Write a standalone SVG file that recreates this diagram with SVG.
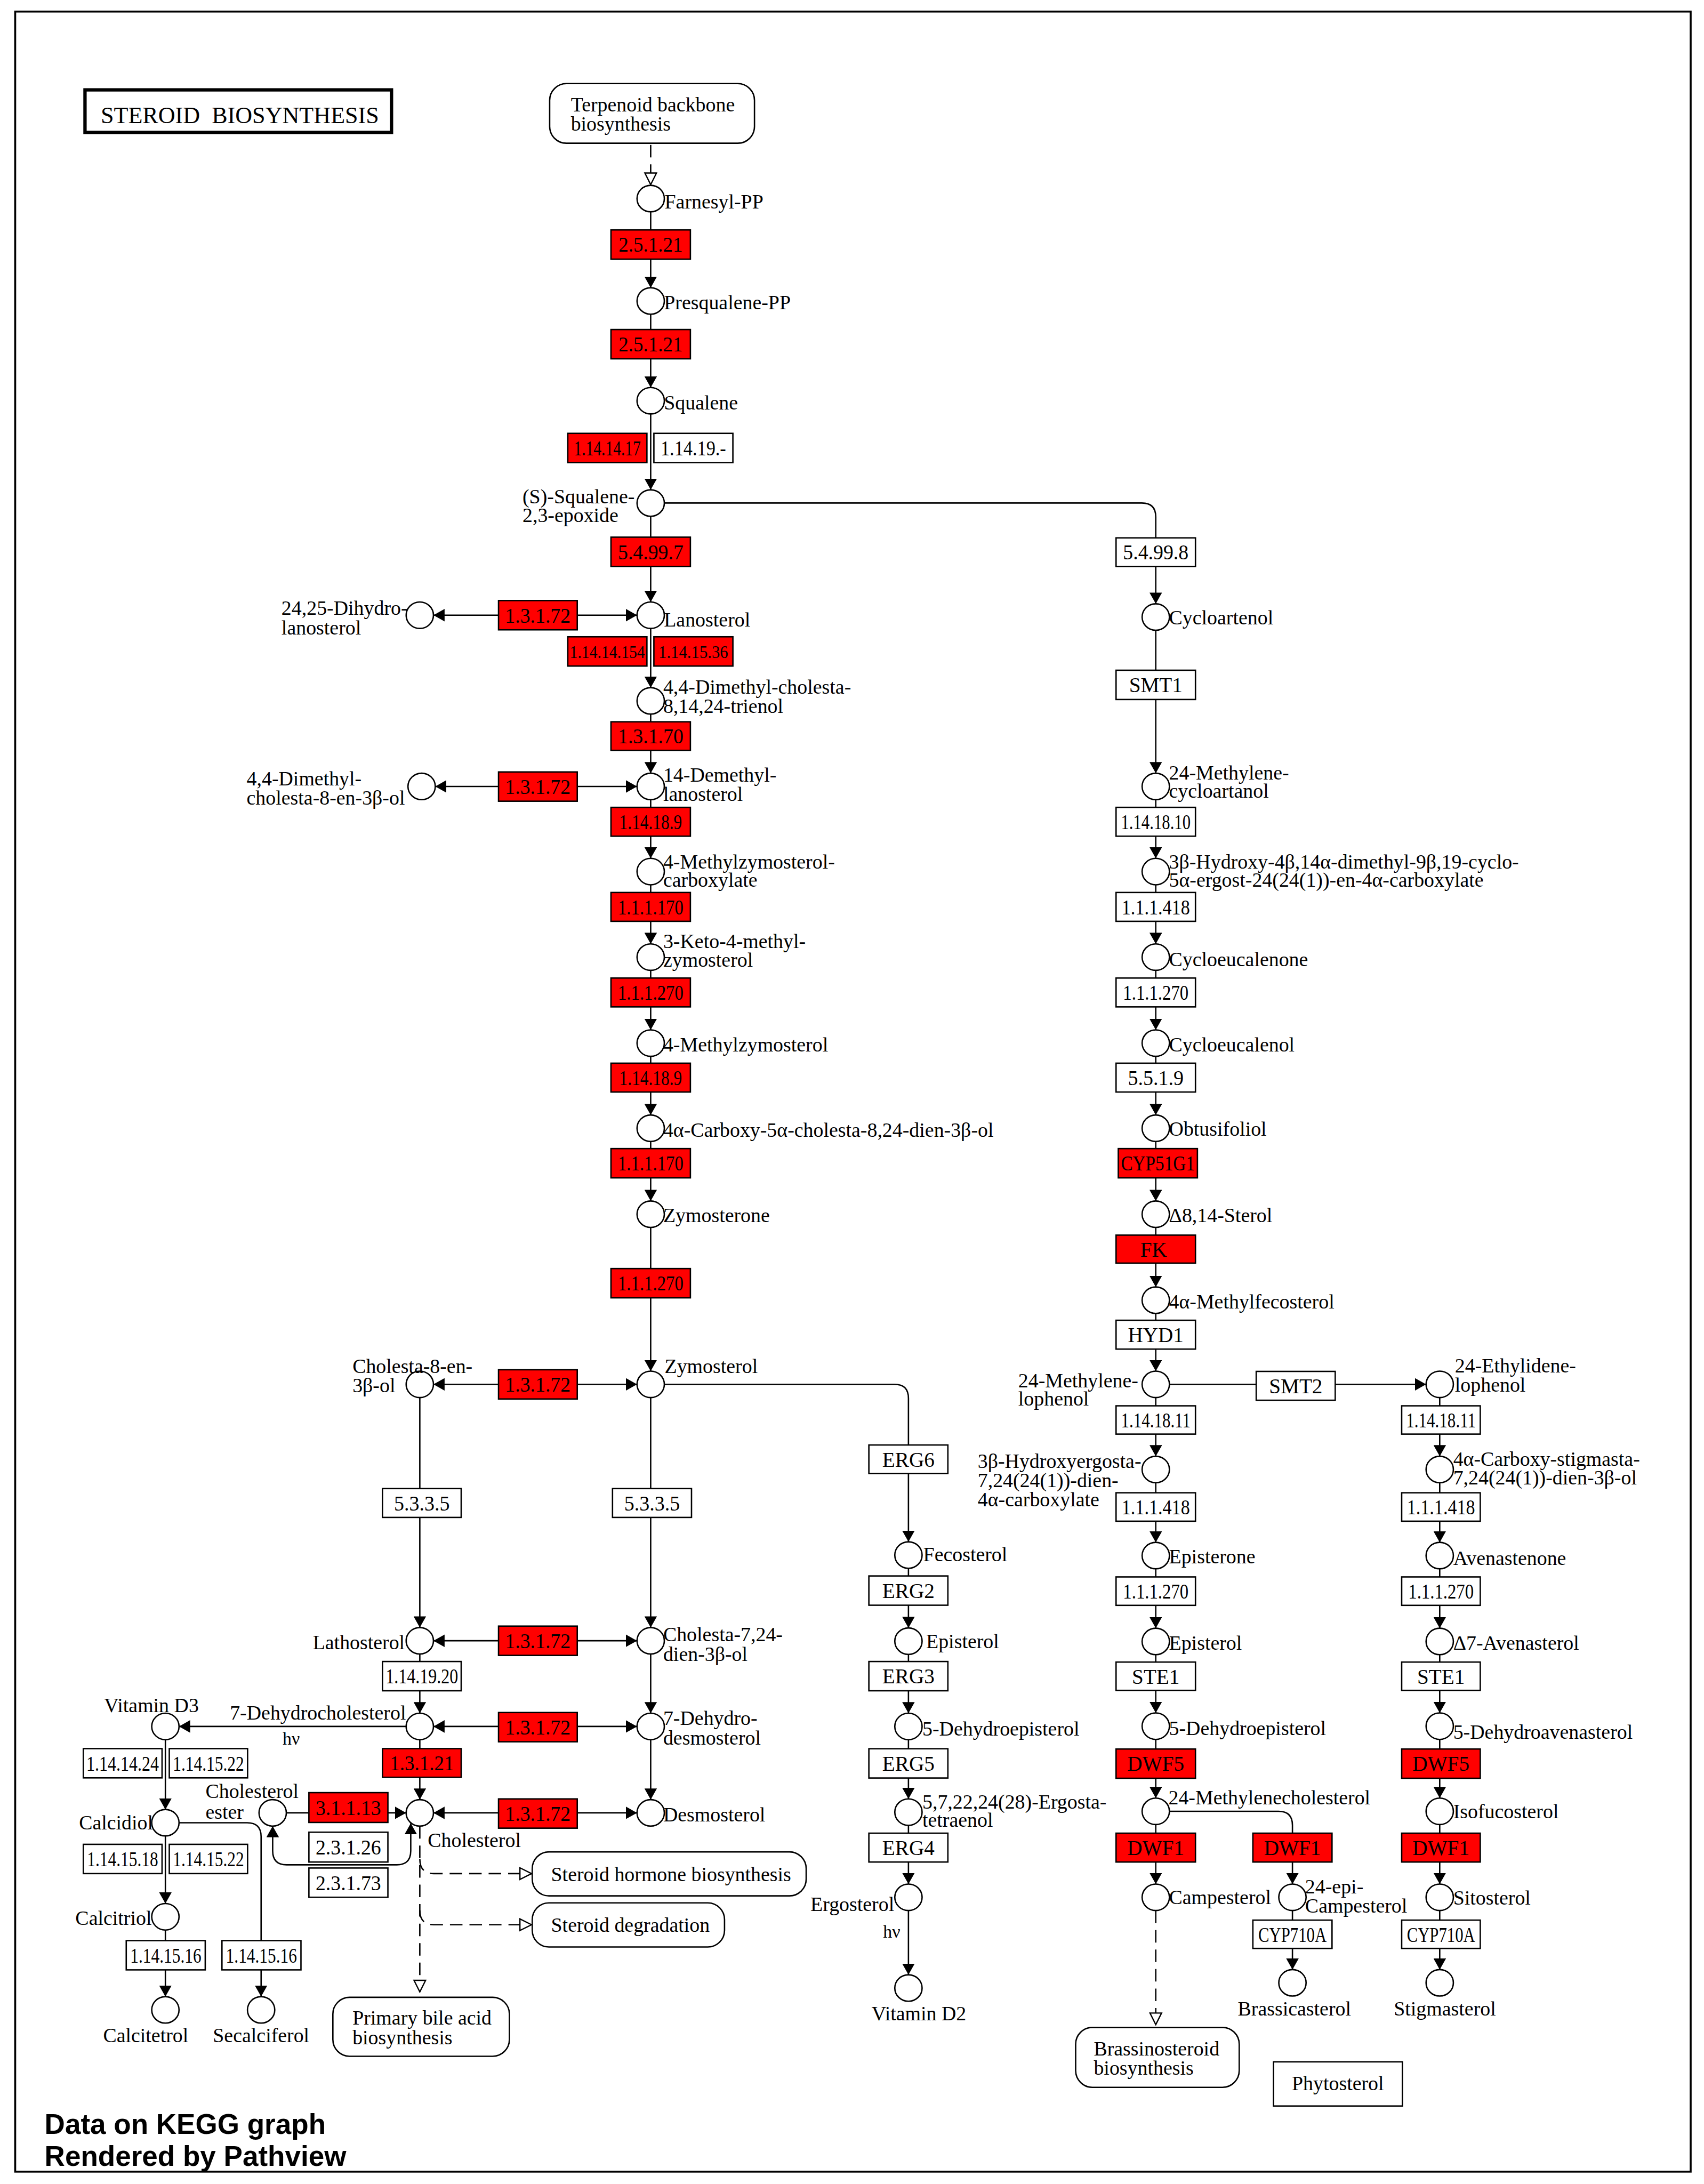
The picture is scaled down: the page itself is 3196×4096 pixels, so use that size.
<svg xmlns="http://www.w3.org/2000/svg" width="3196" height="4096" viewBox="0 0 3196 4096">
<style>
.cp{fill:#fff;stroke:#000;stroke-width:1}
.en{fill:#fff;stroke:#000;stroke-width:1}
.rd{fill:#ff0000;stroke:#000;stroke-width:1}
.mp{fill:#fff;stroke:#000;stroke-width:1}
text{font-family:"Liberation Serif","Times New Roman",serif;fill:#000}
.lb{font-size:14.5px}
.et{font-size:15px;text-anchor:middle}
.sm{font-size:12.5px}
.mid{text-anchor:middle}
.end{text-anchor:end}
.ln{fill:none;stroke:#000;stroke-width:1}
.da{stroke-dasharray:9 5}
.ft{font-family:"Liberation Sans",Arial,sans-serif;font-weight:bold;font-size:20.3px}
</style>
<defs>
<marker id="ah" viewBox="0 0 10 10" preserveAspectRatio="none" refX="10" refY="5" markerWidth="8" markerHeight="9" markerUnits="userSpaceOnUse" orient="auto-start-reverse"><path d="M0,0L10,5L0,10Z" fill="#000"/></marker>
<marker id="oh" viewBox="-1 -1 12 12" refX="10" refY="5" markerWidth="10" markerHeight="10" markerUnits="userSpaceOnUse" orient="auto"><path d="M0,0L10,5L0,10Z" fill="#fff" stroke="#000" stroke-width="1.1"/></marker>
</defs>
<rect x="0" y="0" width="3196" height="4096" fill="#fff"/>
<g transform="scale(2.6133)">
<rect x="10.9" y="8.3" width="1202.5" height="1550.2" fill="none" stroke="#000" stroke-width="1.4"/>
<g id="title"><rect x="61" y="64.5" width="220" height="30.5" fill="#fff" stroke="#000" stroke-width="2.4"/><text x="72.3" y="88.4" font-size="17" textLength="199.7" lengthAdjust="spacingAndGlyphs" xml:space="preserve">STEROID  BIOSYNTHESIS</text></g>

<g id="connectors">
<path class="ln" marker-end="url(#ah)" d="M467,152V206.5"/>
<path class="ln" marker-end="url(#ah)" d="M467,225.5V278.1"/>
<path class="ln" marker-end="url(#ah)" d="M467,297.1V351.5"/>
<path class="ln" marker-end="url(#ah)" d="M467,370.5V432"/>
<path class="ln" marker-end="url(#ah)" d="M467,451V493.5"/>
<path class="ln" marker-end="url(#ah)" d="M467,512.5V554.9"/>
<path class="ln" marker-end="url(#ah)" d="M467,573.9V616"/>
<path class="ln" marker-end="url(#ah)" d="M467,635V677.4"/>
<path class="ln" marker-end="url(#ah)" d="M467,696.4V739.1"/>
<path class="ln" marker-end="url(#ah)" d="M467,758.1V800.2"/>
<path class="ln" marker-end="url(#ah)" d="M467,819.2V861.9"/>
<path class="ln" marker-end="url(#ah)" d="M467,880.9V984"/>
<path class="ln" marker-end="url(#ah)" d="M467,1003V1168"/>
<path class="ln" marker-end="url(#ah)" d="M467,1187V1229.5"/>
<path class="ln" marker-end="url(#ah)" d="M467,1248.5V1291.5"/>
<path class="ln" marker-end="url(#ah)" d="M301.3,1003V1168"/>
<path class="ln" marker-end="url(#ah)" d="M301.3,1187V1229.5"/>
<path class="ln" marker-end="url(#ah)" d="M301.3,1248.5V1291.5"/>
<path class="ln" marker-start="url(#ah)" marker-end="url(#ah)" d="M311.1,441.5H457.2"/>
<path class="ln" marker-start="url(#ah)" marker-end="url(#ah)" d="M312.4,564.4H457.2"/>
<path class="ln" marker-start="url(#ah)" marker-end="url(#ah)" d="M311.1,993.5H457.2"/>
<path class="ln" marker-start="url(#ah)" marker-end="url(#ah)" d="M311.1,1177.5H457.2"/>
<path class="ln" marker-start="url(#ah)" marker-end="url(#ah)" d="M311.1,1239H457.2"/>
<path class="ln" marker-start="url(#ah)" marker-end="url(#ah)" d="M311.1,1301H457.2"/>
<path class="ln" marker-end="url(#ah)" d="M291.5,1239H128.5"/>
<path class="ln" marker-end="url(#ah)" d="M205.5,1301H291.5"/>
<path class="ln" marker-start="url(#ah)" marker-end="url(#ah)" d="M294.8,1308.5V1328.3Q294.8,1338.3 284.8,1338.3H205.7Q195.7,1338.3 195.7,1328.3V1310.5"/>
<path class="ln" marker-end="url(#ah)" d="M118.7,1248.5V1298.6"/>
<path class="ln" marker-end="url(#ah)" d="M118.7,1317.6V1366.1"/>
<path class="ln" marker-end="url(#ah)" d="M118.7,1385.1V1432.9"/>
<path class="ln" marker-end="url(#ah)" d="M128.5,1308.1H177.4Q187.4,1308.1 187.4,1318.1V1432.9"/>
<path class="ln" marker-end="url(#ah)" d="M476.8,993.5H642Q652,993.5 652,1003.5V1106.5"/>
<path class="ln" marker-end="url(#ah)" d="M652,1125.5V1168.3"/>
<path class="ln" marker-end="url(#ah)" d="M652,1187.3V1229.5"/>
<path class="ln" marker-end="url(#ah)" d="M652,1248.5V1291"/>
<path class="ln" marker-end="url(#ah)" d="M652,1310V1352.1"/>
<path class="ln" marker-end="url(#ah)" d="M652,1371.1V1417.2"/>
<path class="ln" marker-end="url(#ah)" d="M476.8,361H819.5Q829.5,361 829.5,371V433.3"/>
<path class="ln" marker-end="url(#ah)" d="M829.5,452.3V554.9"/>
<path class="ln" marker-end="url(#ah)" d="M829.5,573.9V616"/>
<path class="ln" marker-end="url(#ah)" d="M829.5,635V677.4"/>
<path class="ln" marker-end="url(#ah)" d="M829.5,696.4V739.1"/>
<path class="ln" marker-end="url(#ah)" d="M829.5,758.1V800.2"/>
<path class="ln" marker-end="url(#ah)" d="M829.5,819.2V861.9"/>
<path class="ln" marker-end="url(#ah)" d="M829.5,880.9V923.6"/>
<path class="ln" marker-end="url(#ah)" d="M829.5,942.6V984"/>
<path class="ln" marker-end="url(#ah)" d="M829.5,1003V1045.1"/>
<path class="ln" marker-end="url(#ah)" d="M829.5,1064.1V1106.9"/>
<path class="ln" marker-end="url(#ah)" d="M829.5,1125.9V1168.5"/>
<path class="ln" marker-end="url(#ah)" d="M829.5,1187.5V1229.3"/>
<path class="ln" marker-end="url(#ah)" d="M829.5,1248.3V1290.4"/>
<path class="ln" marker-end="url(#ah)" d="M829.5,1309.4V1352.1"/>
<path class="ln" marker-end="url(#ah)" d="M839.3,993.5H1023.5"/>
<path class="ln" marker-end="url(#ah)" d="M839.3,1299.9H917.6Q927.6,1299.9 927.6,1309.9V1352.1"/>
<path class="ln" marker-end="url(#ah)" d="M927.6,1371.1V1413.5"/>
<path class="ln" marker-end="url(#ah)" d="M1033.3,1003V1045.1"/>
<path class="ln" marker-end="url(#ah)" d="M1033.3,1064.1V1106.9"/>
<path class="ln" marker-end="url(#ah)" d="M1033.3,1125.9V1168.5"/>
<path class="ln" marker-end="url(#ah)" d="M1033.3,1187.5V1229.3"/>
<path class="ln" marker-end="url(#ah)" d="M1033.3,1248.3V1290.4"/>
<path class="ln" marker-end="url(#ah)" d="M1033.3,1309.4V1352.1"/>
<path class="ln" marker-end="url(#ah)" d="M1033.3,1371.1V1413.5"/>
<path class="ln da" marker-end="url(#oh)" d="M467,104V132.5"/>
<path class="ln da" marker-end="url(#oh)" d="M301.3,1310.5V1429.5"/>
<path class="ln da" marker-end="url(#oh)" d="M301.3,1334Q301.3,1344.6 311.3,1344.6H381.5"/>
<path class="ln da" marker-end="url(#oh)" d="M301.3,1371Q301.3,1381.3 311.3,1381.3H381.5"/>
<path class="ln da" marker-end="url(#oh)" d="M829.5,1371.1V1453"/>
</g>

<g id="map-terpenoid"><rect class="mp" x="394.5" y="60" width="147" height="42.8" rx="12"/><text class="lb" x="409.7" y="80">Terpenoid backbone</text><text class="lb" x="409.7" y="93.8">biosynthesis</text></g>
<g id="map-steroid-hormone"><rect class="mp" x="382" y="1329" width="196.6" height="31.6" rx="12"/><text class="lb" x="395.5" y="1350">Steroid hormone biosynthesis</text></g>
<g id="map-steroid-degradation"><rect class="mp" x="382" y="1365.6" width="138" height="31.7" rx="12"/><text class="lb" x="395.5" y="1386.5">Steroid degradation</text></g>
<g id="map-primary-bile-acid"><rect class="mp" x="238.9" y="1433.4" width="126.7" height="42.3" rx="12"/><text class="lb" x="253" y="1453">Primary bile acid</text><text class="lb" x="253" y="1467.1">biosynthesis</text></g>
<g id="map-brassinosteroid"><rect class="mp" x="772" y="1455" width="117.4" height="43" rx="12"/><text class="lb" x="785" y="1475">Brassinosteroid</text><text class="lb" x="785" y="1488.8">biosynthesis</text></g>
<g id="phytosterol"><rect class="mp" x="914" y="1479.7" width="92.5" height="31.7"/><text class="lb mid" x="960.2" y="1500">Phytosterol</text></g>

<g id="farnesyl-pp"><ellipse class="cp" cx="467" cy="142.5" rx="9.8" ry="9.5"/><text class="lb" x="477" y="149.5">Farnesyl-PP</text></g>
<g id="presqualene-pp"><ellipse class="cp" cx="467" cy="216" rx="9.8" ry="9.5"/><text class="lb" x="476.5" y="222">Presqualene-PP</text></g>
<g id="squalene"><ellipse class="cp" cx="467" cy="287.6" rx="9.8" ry="9.5"/><text class="lb" x="476.5" y="294">Squalene</text></g>
<g id="squalene-epoxide"><ellipse class="cp" cx="467" cy="361" rx="9.8" ry="9.5"/><text class="lb" x="375" y="361.4">(S)-Squalene-</text><text class="lb" x="375" y="374.8">2,3-epoxide</text></g>
<g id="lanosterol"><ellipse class="cp" cx="467" cy="441.5" rx="9.8" ry="9.5"/><text class="lb" x="476.5" y="449.5">Lanosterol</text></g>
<g id="dimethylcholestatrienol"><ellipse class="cp" cx="467" cy="503" rx="9.8" ry="9.5"/><text class="lb" x="476" y="498">4,4-Dimethyl-cholesta-</text><text class="lb" x="476" y="511.8">8,14,24-trienol</text></g>
<g id="demethyllanosterol"><ellipse class="cp" cx="467" cy="564.4" rx="9.8" ry="9.5"/><text class="lb" x="476" y="561">14-Demethyl-</text><text class="lb" x="476" y="574.8">lanosterol</text></g>
<g id="methylzymosterol-carboxylate"><ellipse class="cp" cx="467" cy="625.5" rx="9.8" ry="9.5"/><text class="lb" x="476" y="623.5">4-Methylzymosterol-</text><text class="lb" x="476" y="636.5">carboxylate</text></g>
<g id="keto-methylzymosterol"><ellipse class="cp" cx="467" cy="686.9" rx="9.8" ry="9.5"/><text class="lb" x="476" y="680.5">3-Keto-4-methyl-</text><text class="lb" x="476" y="693.9">zymosterol</text></g>
<g id="methylzymosterol"><ellipse class="cp" cx="467" cy="748.6" rx="9.8" ry="9.5"/><text class="lb" x="476" y="754.6">4-Methylzymosterol</text></g>
<g id="carboxy-cholestadienol"><ellipse class="cp" cx="467" cy="809.7" rx="9.8" ry="9.5"/><text class="lb" x="476" y="816">4α-Carboxy-5α-cholesta-8,24-dien-3β-ol</text></g>
<g id="zymosterone"><ellipse class="cp" cx="467" cy="871.4" rx="9.8" ry="9.5"/><text class="lb" x="476" y="877">Zymosterone</text></g>
<g id="zymosterol"><ellipse class="cp" cx="467" cy="993.5" rx="9.8" ry="9.5"/><text class="lb" x="477" y="985.5">Zymosterol</text></g>
<g id="cholestadienol"><ellipse class="cp" cx="467" cy="1177.5" rx="9.8" ry="9.5"/><text class="lb" x="476" y="1178">Cholesta-7,24-</text><text class="lb" x="476" y="1191.8">dien-3β-ol</text></g>
<g id="dehydrodesmosterol"><ellipse class="cp" cx="467" cy="1239" rx="9.8" ry="9.5"/><text class="lb" x="476" y="1238">7-Dehydro-</text><text class="lb" x="476" y="1251.9">desmosterol</text></g>
<g id="desmosterol"><ellipse class="cp" cx="467" cy="1301" rx="9.8" ry="9.5"/><text class="lb" x="476" y="1307">Desmosterol</text></g>

<g id="dihydrolanosterol"><ellipse class="cp" cx="301.3" cy="441.5" rx="9.8" ry="9.5"/><text class="lb" x="202" y="441.4">24,25-Dihydro-</text><text class="lb" x="202" y="455.2">lanosterol</text></g>
<g id="dimethylcholestenol"><ellipse class="cp" cx="302.6" cy="564.4" rx="9.8" ry="9.5"/><text class="lb" x="177" y="563.7">4,4-Dimethyl-</text><text class="lb" x="177" y="577.4">cholesta-8-en-3β-ol</text></g>
<g id="cholestenol"><ellipse class="cp" cx="301.3" cy="993.5" rx="9.8" ry="9.5"/><text class="lb" x="253" y="985.5">Cholesta-8-en-</text><text class="lb" x="253" y="999.2">3β-ol</text></g>
<g id="lathosterol"><ellipse class="cp" cx="301.3" cy="1177.5" rx="9.8" ry="9.5"/><text class="lb end" x="290.5" y="1183.5">Lathosterol</text></g>
<g id="dehydrocholesterol"><ellipse class="cp" cx="301.3" cy="1239" rx="9.8" ry="9.5"/><text class="lb" x="165" y="1234">7-Dehydrocholesterol</text></g>
<g id="cholesterol"><ellipse class="cp" cx="301.3" cy="1301" rx="9.8" ry="9.5"/><text class="lb" x="307" y="1325.6">Cholesterol</text></g>
<g id="cholesterol-ester"><ellipse class="cp" cx="195.7" cy="1301" rx="9.8" ry="9.5"/><text class="lb" x="147.5" y="1290.5">Cholesterol</text><text class="lb" x="147.5" y="1305.3">ester</text></g>
<g id="vitamin-d3"><ellipse class="cp" cx="118.7" cy="1239" rx="9.8" ry="9.5"/><text class="lb" x="74.7" y="1228.8">Vitamin D3</text><text x="209" y="1252" font-size="13" text-anchor="middle">hν</text></g>
<g id="calcidiol"><ellipse class="cp" cx="118.7" cy="1308.1" rx="9.8" ry="9.5"/><text class="lb" x="56.7" y="1313">Calcidiol</text></g>
<g id="calcitriol"><ellipse class="cp" cx="118.7" cy="1375.6" rx="9.8" ry="9.5"/><text class="lb" x="54.1" y="1381.5">Calcitriol</text></g>
<g id="calcitetrol"><ellipse class="cp" cx="118.7" cy="1442.4" rx="9.8" ry="9.5"/><text class="lb mid" x="104.6" y="1465.7">Calcitetrol</text></g>
<g id="secalciferol"><ellipse class="cp" cx="187.4" cy="1442.4" rx="9.8" ry="9.5"/><text class="lb mid" x="187.4" y="1465.7">Secalciferol</text></g>

<g id="fecosterol"><ellipse class="cp" cx="652" cy="1116" rx="9.8" ry="9.5"/><text class="lb" x="662.6" y="1120.3">Fecosterol</text></g>
<g id="episterol-erg"><ellipse class="cp" cx="652" cy="1177.8" rx="9.8" ry="9.5"/><text class="lb" x="664.7" y="1182.8">Episterol</text></g>
<g id="dehydroepisterol-erg"><ellipse class="cp" cx="652" cy="1239" rx="9.8" ry="9.5"/><text class="lb" x="662" y="1245.5">5-Dehydroepisterol</text></g>
<g id="ergostatetraenol"><ellipse class="cp" cx="652" cy="1300.5" rx="9.8" ry="9.5"/><text class="lb" x="662" y="1297.9">5,7,22,24(28)-Ergosta-</text><text class="lb" x="662" y="1311">tetraenol</text></g>
<g id="ergosterol"><ellipse class="cp" cx="652" cy="1361.6" rx="9.8" ry="9.5"/><text class="lb end" x="641.8" y="1371.3">Ergosterol</text><text x="640" y="1390.5" font-size="13" text-anchor="middle">hν</text></g>
<g id="vitamin-d2"><ellipse class="cp" cx="652" cy="1426.7" rx="9.8" ry="9.5"/><text class="lb mid" x="659.5" y="1450">Vitamin D2</text></g>

<g id="cycloartenol"><ellipse class="cp" cx="829.5" cy="442.8" rx="9.8" ry="9.5"/><text class="lb" x="839" y="448">Cycloartenol</text></g>
<g id="methylenecycloartanol"><ellipse class="cp" cx="829.5" cy="564.4" rx="9.8" ry="9.5"/><text class="lb" x="839" y="559.4">24-Methylene-</text><text class="lb" x="839" y="572.4">cycloartanol</text></g>
<g id="hydroxy-dimethyl-cycloergostenoate"><ellipse class="cp" cx="829.5" cy="625.5" rx="9.8" ry="9.5"/><text class="lb" x="839" y="623.5">3β-Hydroxy-4β,14α-dimethyl-9β,19-cyclo-</text><text class="lb" x="839" y="636.5">5α-ergost-24(24(1))-en-4α-carboxylate</text></g>
<g id="cycloeucalenone"><ellipse class="cp" cx="829.5" cy="686.9" rx="9.8" ry="9.5"/><text class="lb" x="839" y="693.5">Cycloeucalenone</text></g>
<g id="cycloeucalenol"><ellipse class="cp" cx="829.5" cy="748.6" rx="9.8" ry="9.5"/><text class="lb" x="839" y="754.6">Cycloeucalenol</text></g>
<g id="obtusifoliol"><ellipse class="cp" cx="829.5" cy="809.7" rx="9.8" ry="9.5"/><text class="lb" x="839" y="815">Obtusifoliol</text></g>
<g id="delta-8-14-sterol"><ellipse class="cp" cx="829.5" cy="871.4" rx="9.8" ry="9.5"/><text class="lb" x="839" y="877">Δ8,14-Sterol</text></g>
<g id="methylfecosterol"><ellipse class="cp" cx="829.5" cy="933.1" rx="9.8" ry="9.5"/><text class="lb" x="839" y="939">4α-Methylfecosterol</text></g>
<g id="methylenelophenol"><ellipse class="cp" cx="829.5" cy="993.5" rx="9.8" ry="9.5"/><text class="lb" x="730.8" y="995.5">24-Methylene-</text><text class="lb" x="730.8" y="1008.6">lophenol</text></g>
<g id="hydroxyergostadienoate"><ellipse class="cp" cx="829.5" cy="1054.6" rx="9.8" ry="9.5"/><text class="lb" x="701.7" y="1053.6">3β-Hydroxyergosta-</text><text class="lb" x="701.7" y="1067.4">7,24(24(1))-dien-</text><text class="lb" x="701.7" y="1081.1">4α-carboxylate</text></g>
<g id="episterone"><ellipse class="cp" cx="829.5" cy="1116.4" rx="9.8" ry="9.5"/><text class="lb" x="839" y="1122">Episterone</text></g>
<g id="episterol"><ellipse class="cp" cx="829.5" cy="1178" rx="9.8" ry="9.5"/><text class="lb" x="839" y="1184">Episterol</text></g>
<g id="dehydroepisterol"><ellipse class="cp" cx="829.5" cy="1238.8" rx="9.8" ry="9.5"/><text class="lb" x="839" y="1245">5-Dehydroepisterol</text></g>
<g id="methylenecholesterol"><ellipse class="cp" cx="829.5" cy="1299.9" rx="9.8" ry="9.5"/><text class="lb" x="838.6" y="1294.9">24-Methylenecholesterol</text></g>
<g id="campesterol"><ellipse class="cp" cx="829.5" cy="1361.6" rx="9.8" ry="9.5"/><text class="lb" x="839" y="1366.6">Campesterol</text></g>
<g id="epi-campesterol"><ellipse class="cp" cx="927.6" cy="1361.6" rx="9.8" ry="9.5"/><text class="lb" x="936.7" y="1359">24-epi-</text><text class="lb" x="936.7" y="1372.7">Campesterol</text></g>
<g id="brassicasterol"><ellipse class="cp" cx="927.6" cy="1423" rx="9.8" ry="9.5"/><text class="lb mid" x="929" y="1446.3">Brassicasterol</text></g>

<g id="ethylidenelophenol"><ellipse class="cp" cx="1033.3" cy="993.5" rx="9.8" ry="9.5"/><text class="lb" x="1044.2" y="984.8">24-Ethylidene-</text><text class="lb" x="1044.2" y="998.6">lophenol</text></g>
<g id="carboxy-stigmastadienol"><ellipse class="cp" cx="1033.3" cy="1054.6" rx="9.8" ry="9.5"/><text class="lb" x="1043" y="1052">4α-Carboxy-stigmasta-</text><text class="lb" x="1043" y="1065.4">7,24(24(1))-dien-3β-ol</text></g>
<g id="avenastenone"><ellipse class="cp" cx="1033.3" cy="1116.4" rx="9.8" ry="9.5"/><text class="lb" x="1043" y="1123">Avenastenone</text></g>
<g id="delta7-avenasterol"><ellipse class="cp" cx="1033.3" cy="1178" rx="9.8" ry="9.5"/><text class="lb" x="1043" y="1184">Δ7-Avenasterol</text></g>
<g id="dehydroavenasterol"><ellipse class="cp" cx="1033.3" cy="1238.8" rx="9.8" ry="9.5"/><text class="lb" x="1043" y="1248">5-Dehydroavenasterol</text></g>
<g id="isofucosterol"><ellipse class="cp" cx="1033.3" cy="1299.9" rx="9.8" ry="9.5"/><text class="lb" x="1043" y="1305">Isofucosterol</text></g>
<g id="sitosterol"><ellipse class="cp" cx="1033.3" cy="1361.6" rx="9.8" ry="9.5"/><text class="lb" x="1043" y="1367">Sitosterol</text></g>
<g id="stigmasterol"><ellipse class="cp" cx="1033.3" cy="1423" rx="9.8" ry="9.5"/><text class="lb mid" x="1037" y="1446.3">Stigmasterol</text></g>

<g id="e1"><rect class="rd" x="438.5" y="165" width="57" height="21"/><text class="et" x="467" y="180.8" textLength="46" lengthAdjust="spacingAndGlyphs">2.5.1.21</text></g>
<g id="e2"><rect class="rd" x="438.5" y="236.5" width="57" height="21"/><text class="et" x="467" y="252.3" textLength="46" lengthAdjust="spacingAndGlyphs">2.5.1.21</text></g>
<g id="e3"><rect class="rd" x="407.5" y="311" width="56.8" height="21"/><text class="et" x="435.9" y="326.8" textLength="48" lengthAdjust="spacingAndGlyphs">1.14.14.17</text></g>
<g id="e4"><rect class="en" x="469.3" y="311" width="56.7" height="21"/><text class="et" x="497.6" y="326.8" textLength="47" lengthAdjust="spacingAndGlyphs">1.14.19.-</text></g>
<g id="e5"><rect class="rd" x="438.5" y="385.5" width="57" height="21"/><text class="et" x="467" y="401.3" textLength="47" lengthAdjust="spacingAndGlyphs">5.4.99.7</text></g>
<g id="e6"><rect class="rd" x="357.8" y="431" width="56.5" height="21"/><text class="et" x="386" y="446.8" textLength="47" lengthAdjust="spacingAndGlyphs">1.3.1.72</text></g>
<g id="e7"><rect class="rd" x="407.5" y="457" width="56.8" height="21"/><text class="et sm" x="435.9" y="472.3" textLength="54" lengthAdjust="spacingAndGlyphs">1.14.14.154</text></g>
<g id="e8"><rect class="rd" x="469.3" y="457" width="56.7" height="21"/><text class="et sm" x="497.6" y="472.3" textLength="50" lengthAdjust="spacingAndGlyphs">1.14.15.36</text></g>
<g id="e9"><rect class="rd" x="438.5" y="518" width="57" height="20.5"/><text class="et" x="467" y="533.6" textLength="47" lengthAdjust="spacingAndGlyphs">1.3.1.70</text></g>
<g id="e10"><rect class="rd" x="357.8" y="554" width="56.5" height="21"/><text class="et" x="386" y="569.8" textLength="47" lengthAdjust="spacingAndGlyphs">1.3.1.72</text></g>
<g id="e11"><rect class="rd" x="438.5" y="579.4" width="57" height="20.7"/><text class="et" x="467" y="595.1" textLength="45" lengthAdjust="spacingAndGlyphs">1.14.18.9</text></g>
<g id="e12"><rect class="rd" x="438.5" y="640.5" width="57" height="20.7"/><text class="et" x="467" y="656.2" textLength="47" lengthAdjust="spacingAndGlyphs">1.1.1.170</text></g>
<g id="e13"><rect class="rd" x="438.5" y="701.9" width="57" height="20.7"/><text class="et" x="467" y="717.6" textLength="47" lengthAdjust="spacingAndGlyphs">1.1.1.270</text></g>
<g id="e14"><rect class="rd" x="438.5" y="763" width="57" height="20.7"/><text class="et" x="467" y="778.7" textLength="45" lengthAdjust="spacingAndGlyphs">1.14.18.9</text></g>
<g id="e15"><rect class="rd" x="438.5" y="824.3" width="57" height="21"/><text class="et" x="467" y="840.1" textLength="47" lengthAdjust="spacingAndGlyphs">1.1.1.170</text></g>
<g id="e16"><rect class="rd" x="438.5" y="910.4" width="57" height="21"/><text class="et" x="467" y="926.2" textLength="47" lengthAdjust="spacingAndGlyphs">1.1.1.270</text></g>
<g id="e17"><rect class="rd" x="357.8" y="983" width="56.5" height="21"/><text class="et" x="386" y="998.8" textLength="47" lengthAdjust="spacingAndGlyphs">1.3.1.72</text></g>
<g id="e18"><rect class="en" x="439.6" y="1068.3" width="56.7" height="20.7"/><text class="et" x="468" y="1084" textLength="40" lengthAdjust="spacingAndGlyphs">5.3.3.5</text></g>
<g id="e19"><rect class="en" x="274.5" y="1068.3" width="56.5" height="20.7"/><text class="et" x="302.8" y="1084" textLength="40" lengthAdjust="spacingAndGlyphs">5.3.3.5</text></g>
<g id="e20"><rect class="rd" x="357.8" y="1167" width="56.5" height="21"/><text class="et" x="386" y="1182.8" textLength="47" lengthAdjust="spacingAndGlyphs">1.3.1.72</text></g>
<g id="e21"><rect class="en" x="274.5" y="1192.4" width="56.5" height="21"/><text class="et" x="302.8" y="1208.2" textLength="52" lengthAdjust="spacingAndGlyphs">1.14.19.20</text></g>
<g id="e22"><rect class="rd" x="357.8" y="1229" width="56.5" height="21"/><text class="et" x="386" y="1244.8" textLength="47" lengthAdjust="spacingAndGlyphs">1.3.1.72</text></g>
<g id="e23"><rect class="rd" x="274.5" y="1254.9" width="56.5" height="20.6"/><text class="et" x="302.8" y="1270.5" textLength="46" lengthAdjust="spacingAndGlyphs">1.3.1.21</text></g>
<g id="e24"><rect class="rd" x="357.8" y="1291" width="56.5" height="21"/><text class="et" x="386" y="1306.8" textLength="47" lengthAdjust="spacingAndGlyphs">1.3.1.72</text></g>
<g id="e25"><rect class="rd" x="221.7" y="1286.5" width="56.7" height="21.4"/><text class="et" x="250" y="1302.5" textLength="47" lengthAdjust="spacingAndGlyphs">3.1.1.13</text></g>
<g id="e26"><rect class="en" x="221.7" y="1314.9" width="56.7" height="21.4"/><text class="et" x="250" y="1330.9" textLength="47" lengthAdjust="spacingAndGlyphs">2.3.1.26</text></g>
<g id="e27"><rect class="en" x="221.7" y="1340.6" width="56.7" height="21"/><text class="et" x="250" y="1356.4" textLength="47" lengthAdjust="spacingAndGlyphs">2.3.1.73</text></g>
<g id="e28"><rect class="en" x="59.8" y="1254.9" width="56.5" height="21"/><text class="et" x="88" y="1270.7" textLength="52" lengthAdjust="spacingAndGlyphs">1.14.14.24</text></g>
<g id="e29"><rect class="en" x="121.5" y="1254.9" width="56.2" height="21"/><text class="et" x="149.6" y="1270.7" textLength="51" lengthAdjust="spacingAndGlyphs">1.14.15.22</text></g>
<g id="e30"><rect class="en" x="59.8" y="1323.6" width="56.5" height="21"/><text class="et" x="88" y="1339.4" textLength="51" lengthAdjust="spacingAndGlyphs">1.14.15.18</text></g>
<g id="e31"><rect class="en" x="121.5" y="1323.6" width="56.2" height="21"/><text class="et" x="149.6" y="1339.4" textLength="51" lengthAdjust="spacingAndGlyphs">1.14.15.22</text></g>
<g id="e32"><rect class="en" x="90.6" y="1392.7" width="56.7" height="21"/><text class="et" x="119" y="1408.5" textLength="51" lengthAdjust="spacingAndGlyphs">1.14.15.16</text></g>
<g id="e33"><rect class="en" x="159.3" y="1392.7" width="56.7" height="21"/><text class="et" x="187.6" y="1408.5" textLength="51" lengthAdjust="spacingAndGlyphs">1.14.15.16</text></g>
<g id="e34"><rect class="en" x="623.6" y="1037" width="56.7" height="20.5"/><text class="et" x="652" y="1052.6">ERG6</text></g>
<g id="e35"><rect class="en" x="623.6" y="1131" width="56.7" height="21"/><text class="et" x="652" y="1146.8">ERG2</text></g>
<g id="e36"><rect class="en" x="623.6" y="1192.4" width="56.7" height="21"/><text class="et" x="652" y="1208.2">ERG3</text></g>
<g id="e37"><rect class="en" x="623.6" y="1255" width="56.7" height="21"/><text class="et" x="652" y="1270.8">ERG5</text></g>
<g id="e38"><rect class="en" x="623.6" y="1315.6" width="56.7" height="20.7"/><text class="et" x="652" y="1331.3">ERG4</text></g>
<g id="e39"><rect class="en" x="801" y="386" width="57" height="20.5"/><text class="et" x="829.5" y="401.6" textLength="47" lengthAdjust="spacingAndGlyphs">5.4.99.8</text></g>
<g id="e40"><rect class="en" x="801" y="481" width="57" height="21"/><text class="et" x="829.5" y="496.8">SMT1</text></g>
<g id="e41"><rect class="en" x="801" y="579.4" width="57" height="20.7"/><text class="et" x="829.5" y="595.1" textLength="50" lengthAdjust="spacingAndGlyphs">1.14.18.10</text></g>
<g id="e42"><rect class="en" x="801" y="640.5" width="57" height="20.7"/><text class="et" x="829.5" y="656.2" textLength="49" lengthAdjust="spacingAndGlyphs">1.1.1.418</text></g>
<g id="e43"><rect class="en" x="801" y="701.9" width="57" height="20.7"/><text class="et" x="829.5" y="717.6" textLength="47" lengthAdjust="spacingAndGlyphs">1.1.1.270</text></g>
<g id="e44"><rect class="en" x="801" y="763" width="57" height="20.7"/><text class="et" x="829.5" y="778.7" textLength="40" lengthAdjust="spacingAndGlyphs">5.5.1.9</text></g>
<g id="e45"><rect class="rd" x="802.6" y="824.3" width="56.8" height="21"/><text class="et" x="831" y="840.1" textLength="53" lengthAdjust="spacingAndGlyphs">CYP51G1</text></g>
<g id="e46"><rect class="rd" x="801" y="886.4" width="57" height="20.1"/><text class="et" x="828" y="901.8">FK</text></g>
<g id="e47"><rect class="en" x="801" y="947.5" width="57" height="20.7"/><text class="et" x="829.5" y="963.2">HYD1</text></g>
<g id="e48"><rect class="en" x="901.6" y="984.2" width="56.7" height="20.7"/><text class="et" x="930" y="999.9">SMT2</text></g>
<g id="e49"><rect class="en" x="801" y="1008.9" width="57" height="20.3"/><text class="et" x="829.5" y="1024.4" textLength="50" lengthAdjust="spacingAndGlyphs">1.14.18.11</text></g>
<g id="e50"><rect class="en" x="1006" y="1008.9" width="56.4" height="20.3"/><text class="et" x="1034.2" y="1024.4" textLength="50" lengthAdjust="spacingAndGlyphs">1.14.18.11</text></g>
<g id="e51"><rect class="en" x="801" y="1071.3" width="57" height="20.4"/><text class="et" x="829.5" y="1086.8" textLength="49" lengthAdjust="spacingAndGlyphs">1.1.1.418</text></g>
<g id="e52"><rect class="en" x="1006" y="1071.3" width="56.4" height="20.4"/><text class="et" x="1034.2" y="1086.8" textLength="49" lengthAdjust="spacingAndGlyphs">1.1.1.418</text></g>
<g id="e53"><rect class="en" x="801" y="1131.7" width="57" height="20.4"/><text class="et" x="829.5" y="1147.2" textLength="47" lengthAdjust="spacingAndGlyphs">1.1.1.270</text></g>
<g id="e54"><rect class="en" x="1006" y="1131.7" width="56.4" height="20.4"/><text class="et" x="1034.2" y="1147.2" textLength="47" lengthAdjust="spacingAndGlyphs">1.1.1.270</text></g>
<g id="e55"><rect class="en" x="801" y="1192.8" width="57" height="20.3"/><text class="et" x="829.5" y="1208.3">STE1</text></g>
<g id="e56"><rect class="en" x="1006" y="1192.8" width="56.4" height="20.3"/><text class="et" x="1034.2" y="1208.3">STE1</text></g>
<g id="e57"><rect class="rd" x="801" y="1255.2" width="57" height="21"/><text class="et" x="829.5" y="1271">DWF5</text></g>
<g id="e58"><rect class="rd" x="1006" y="1255.2" width="56.4" height="21"/><text class="et" x="1034.2" y="1271">DWF5</text></g>
<g id="e59"><rect class="rd" x="801" y="1315.6" width="57" height="20.7"/><text class="et" x="829.5" y="1331.3">DWF1</text></g>
<g id="e60"><rect class="rd" x="899.2" y="1315.6" width="56.8" height="20.7"/><text class="et" x="927.6" y="1331.3">DWF1</text></g>
<g id="e61"><rect class="rd" x="1006" y="1315.6" width="56.4" height="20.7"/><text class="et" x="1034.2" y="1331.3">DWF1</text></g>
<g id="e62"><rect class="en" x="899.2" y="1378" width="56.8" height="20.3"/><text class="et" x="927.6" y="1393.5" textLength="49" lengthAdjust="spacingAndGlyphs">CYP710A</text></g>
<g id="e63"><rect class="en" x="1006" y="1378" width="56.4" height="20.3"/><text class="et" x="1034.2" y="1393.5" textLength="49" lengthAdjust="spacingAndGlyphs">CYP710A</text></g>

<g id="footer"><text class="ft" x="32" y="1531.5">Data on KEGG graph</text><text class="ft" x="32" y="1554.5">Rendered by Pathview</text></g>
</g>
</svg>
